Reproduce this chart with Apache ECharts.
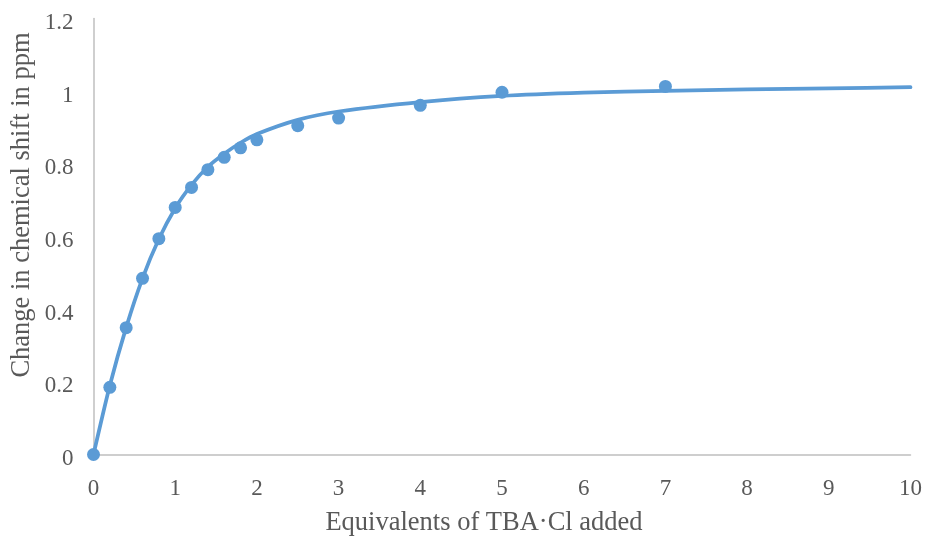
<!DOCTYPE html>
<html>
<head>
<meta charset="utf-8">
<script src="https://cdn.jsdelivr.net/npm/echarts@6/dist/echarts.min.js"></script>
<style>
  html, body { margin: 0; padding: 0; background: #ffffff; }
  #chart { width: 928px; height: 540px; }
</style>
</head>
<body>
<div id="chart"></div>
<script>
// Titration: observed chemical-shift change vs. equivalents of TBA·Cl
const obsEquiv = [0, 0.2, 0.4, 0.6, 0.8, 1.0, 1.2, 1.4, 1.6, 1.8, 2.0, 2.5, 3.0, 4.0, 5.0, 7.0];
const obsShift = [0, 0.185, 0.349, 0.485, 0.594, 0.680, 0.735, 0.784, 0.818, 0.844, 0.866, 0.905, 0.926, 0.961, 0.997, 1.013];

// Binding-isotherm fit curve
const fitEquiv = [0, 0.2, 0.4, 0.6, 0.8, 1.0, 1.2, 1.4, 1.6, 1.8, 2.0, 2.5, 3.0, 4.0, 5.0, 6.0, 7.0, 8.0, 9.0, 10.0];
const fitShift = [0, 0.19, 0.35, 0.485, 0.593, 0.678, 0.742, 0.792, 0.828, 0.858, 0.882, 0.921, 0.944, 0.970, 0.987, 0.996, 1.001, 1.005, 1.008, 1.011];

const xTitle = 'Equivalents of TBA·Cl added';
const yTitle = 'Change in chemical shift in ppm';

const FONT = '"Liberation Serif", "Times New Roman", serif';
const TEXT = '#595959';
const BLUE = '#5b9bd5';
const AXIS = '#bfbfbf';

const chart = echarts.init(document.getElementById('chart'), null, { renderer: 'canvas' });

chart.setOption({
  animation: false,
  backgroundColor: '#ffffff',
  grid: { left: 93.5, right: 17.5, top: 18.5, bottom: 85.5, containLabel: false },
  xAxis: {
    type: 'value', min: 0, max: 10, interval: 1,
    axisLine: { show: true, lineStyle: { color: AXIS, width: 1.5 } },
    axisTick: { show: false },
    splitLine: { show: false },
    axisLabel: { color: TEXT, fontFamily: FONT, fontSize: 23, margin: 23 }
  },
  yAxis: {
    type: 'value', min: 0, max: 1.2, interval: 0.2,
    axisLine: { show: true, lineStyle: { color: AXIS, width: 1.5 } },
    axisTick: { show: false },
    splitLine: { show: false },
    axisLabel: {
      color: TEXT, fontFamily: FONT, fontSize: 23, margin: 20,
      // labels sit a few pixels below their tick values
      verticalAlign: 'top', lineHeight: 9,
      formatter: v => String(Math.round(v * 10) / 10)
    }
  },
  graphic: [
    {
      type: 'text', x: 484, y: 523,
      style: {
        text: xTitle, align: 'center', verticalAlign: 'middle',
        font: '26.5px ' + FONT, fill: TEXT
      }
    },
    {
      type: 'text', x: 22.5, y: 205, rotation: Math.PI / 2,
      style: {
        text: yTitle, align: 'center', verticalAlign: 'middle',
        font: '26.5px ' + FONT, fill: TEXT
      }
    }
  ],
  series: [
    {
      type: 'line',
      data: fitEquiv.map((x, i) => [x, fitShift[i]]),
      smooth: 0.25,
      showSymbol: false,
      lineStyle: { color: BLUE, width: 3.75, cap: 'round' },
      z: 2
    },
    {
      type: 'scatter',
      data: obsEquiv.map((x, i) => [x, obsShift[i]]),
      symbol: 'circle',
      symbolSize: 13,
      itemStyle: { color: BLUE, opacity: 1 },
      clip: false,
      z: 3
    }
  ]
});
</script>
</body>
</html>
